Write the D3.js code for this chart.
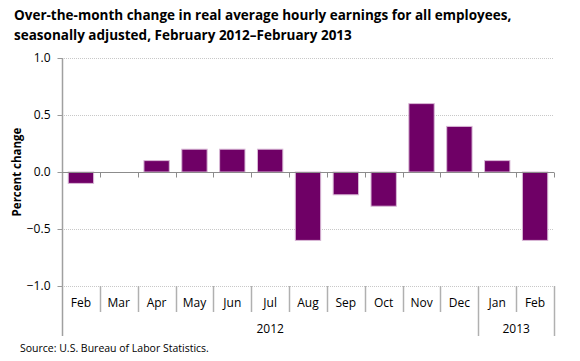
<!DOCTYPE html>
<html>
<head>
<meta charset="utf-8">
<script src="https://cdn.jsdelivr.net/npm/d3@7"></script>
<style>
  body { margin: 0; background: #fff; }
  text { font-family: "Open Sans", "DejaVu Sans", sans-serif; }
</style>
</head>
<body>
<script>
const months = ['Feb', 'Mar', 'Apr', 'May', 'Jun', 'Jul', 'Aug', 'Sep', 'Oct', 'Nov', 'Dec', 'Jan', 'Feb'];
const years = ['2012', '2012', '2012', '2012', '2012', '2012', '2012', '2012', '2012', '2012', '2012', '2013', '2013'];
const values = [-0.1, 0.0, 0.1, 0.2, 0.2, 0.2, -0.6, -0.2, -0.3, 0.6, 0.4, 0.1, -0.6];
const yTicks = [-1.0, -0.5, 0.0, 0.5, 1.0];

const width = 580;
const height = 361;
const margin = { top: 58, right: 26, bottom: 75, left: 62 };

const svg = d3.select('body')
    .append('svg')
    .attr('width', width)
    .attr('height', height);

// title
svg.append('text')
    .attr('x', 14)
    .attr('y', 20)
    .attr('font-size', 13.5)
    .attr('font-weight', 'bold')
    .attr('fill', '#000')
    .text('Over-the-month change in real average hourly earnings for all employees,');
svg.append('text')
    .attr('x', 14)
    .attr('y', 40)
    .attr('font-size', 13.5)
    .attr('font-weight', 'bold')
    .attr('fill', '#000')
    .text('seasonally adjusted, February 2012\u2013February 2013');

const idx = months.map((d, i) => i);

const x = d3.scaleBand()
    .domain(idx)
    .range([margin.left, width - margin.right])
    .paddingInner(0.33)
    .paddingOuter(0.165);

const y = d3.scaleLinear()
    .domain([-1, 1])
    .range([height - margin.bottom, margin.top]);

const step = x.step();
const bandLeft = i => margin.left + i * step;

// gridlines
svg.append('g')
    .selectAll('line')
    .data(yTicks.filter(d => d !== 0))
    .join('line')
    .attr('x1', margin.left)
    .attr('x2', width - margin.right)
    .attr('y1', d => Math.round(y(d)) + 0.5)
    .attr('y2', d => Math.round(y(d)) + 0.5)
    .attr('stroke', '#c8c8c8')
    .attr('stroke-dasharray', '1,1');

// bars
svg.append('g')
    .selectAll('rect')
    .data(values)
    .join('rect')
    .attr('x', (d, i) => x(i))
    .attr('y', d => y(Math.max(0, d)))
    .attr('width', x.bandwidth())
    .attr('height', d => Math.abs(y(d) - y(0)))
    .attr('fill', '#6f0066')
    .attr('stroke', '#d9b8d6')
    .attr('stroke-width', 1);

// y axis
const yAxis = svg.append('g')
    .attr('transform', `translate(${margin.left + 0.5},0)`)
    .call(d3.axisLeft(y).tickValues(yTicks).tickFormat(d3.format('.1f')).tickSize(5).tickPadding(7));
yAxis.select('.domain').remove();
yAxis.selectAll('.tick line').attr('stroke', '#999');
yAxis.selectAll('.tick text')
    .attr('font-size', 12)
    .attr('fill', '#000')
    .attr('font-family', '"Open Sans", sans-serif');

svg.append('line')
    .attr('x1', margin.left + 0.5)
    .attr('x2', margin.left + 0.5)
    .attr('y1', y(1))
    .attr('y2', 336)
    .attr('stroke', '#a0a0a0')
    .attr('stroke-width', 1.5);

// zero line with ticks
const zeroY = Math.round(y(0)) + 0.5;
svg.append('line')
    .attr('x1', margin.left)
    .attr('x2', width - margin.right)
    .attr('y1', zeroY)
    .attr('y2', zeroY)
    .attr('stroke', '#8c8c8c')
    .attr('stroke-width', 1.2);
svg.append('g')
    .selectAll('line')
    .data(d3.range(1, months.length + 1))
    .join('line')
    .attr('x1', i => Math.round(bandLeft(i)) + 0.5)
    .attr('x2', i => Math.round(bandLeft(i)) + 0.5)
    .attr('y1', zeroY)
    .attr('y2', zeroY + 5)
    .attr('stroke', '#8c8c8c');

// category separators
const bottomY = y(-1);
svg.append('g')
    .selectAll('line')
    .data(d3.range(1, months.length + 1))
    .join('line')
    .attr('x1', i => Math.round(bandLeft(i)) + 0.5)
    .attr('x2', i => Math.round(bandLeft(i)) + 0.5)
    .attr('y1', bottomY)
    .attr('y2', i => (i === months.length || years[i] !== years[i - 1]) ? 336 : 312)
    .attr('stroke', '#b0b0b0')
    .attr('stroke-width', 1.5);

// month labels
svg.append('g')
    .selectAll('text')
    .data(months)
    .join('text')
    .attr('x', (d, i) => bandLeft(i) + step / 2)
    .attr('y', 307)
    .attr('text-anchor', 'middle')
    .attr('font-size', 12)
    .attr('fill', '#000')
    .text(d => d);

// year labels
const yearGroups = d3.groups(idx, i => years[i]);
svg.append('g')
    .selectAll('text')
    .data(yearGroups)
    .join('text')
    .attr('x', d => (bandLeft(d[1][0]) + bandLeft(d[1][d[1].length - 1] + 1)) / 2)
    .attr('y', 333)
    .attr('text-anchor', 'middle')
    .attr('font-size', 12)
    .attr('fill', '#000')
    .text(d => d[0]);

// y label
svg.append('text')
    .attr('transform', `translate(21,${y(0)}) rotate(-90)`)
    .attr('text-anchor', 'middle')
    .attr('font-size', 11.5)
    .attr('font-weight', 'bold')
    .attr('fill', '#000')
    .text('Percent change');

// source
svg.append('text')
    .attr('x', 20)
    .attr('y', 352)
    .attr('font-size', 10.5)
    .attr('fill', '#000')
    .text('Source: U.S. Bureau of Labor Statistics.');
</script>
</body>
</html>
